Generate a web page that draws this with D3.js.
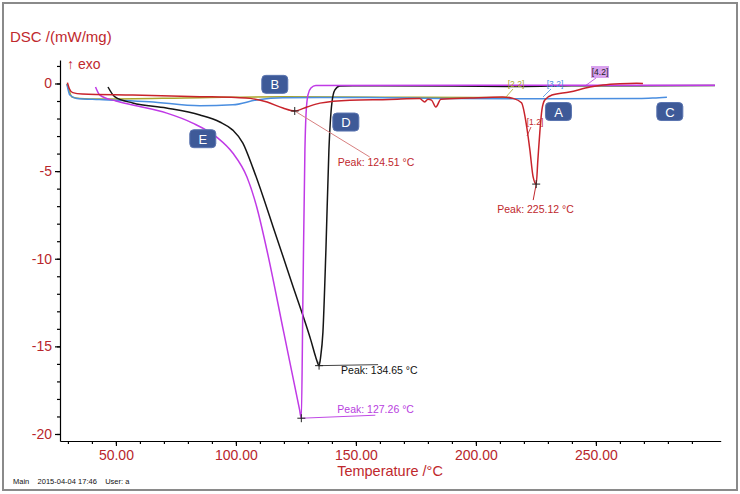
<!DOCTYPE html>
<meta charset="utf-8">
<head>
	<script src="https://d3js.org/d3.v7.min.js"></script>
	<style>
		body {
			margin: 0;
			font-family: "Liberation Sans", Arial, sans-serif;
			background: #fff;
		}
		.axis path,
		.axis line {
			fill: none;
			stroke: #000;
			stroke-width: 1.2px;
		}
		.axis text {
			font-family: "Liberation Sans", Arial, sans-serif;
			font-size: 14px;
			fill: #b8262c;
		}
		.curve {
			fill: none;
			stroke-width: 1.5px;
		}
		.peak-text {
			font-size: 10.5px;
		}
		.tag text {
			font-size: 13px;
			fill: #fff;
			text-anchor: middle;
		}
	</style>
</head>

<body>
	<div id="chart"></div>
</body>

<script type="text/javascript">

	// curve data, [temperature °C, DSC mW/mg]
	var curveA = [[29.8,0.05],[30.6,-0.3],[32,-0.52],[36,-0.6],[57,-0.66],[85,-0.75],[100,-0.8],[106,-0.85],[113,-1.06],[119.6,-1.4],[124.51,-1.57],[129.6,-1.34],[135,-1.12],[147.5,-0.95],[164,-0.91],[176.5,-0.86],[178.7,-1.05],[180,-0.9],[181.5,-0.95],[183.3,-1.34],[185.4,-0.9],[197.5,-0.83],[211,-0.77],[215.5,-0.85],[219,-1.1],[221.2,-2.5],[222.5,-3.8],[223.8,-5.3],[225.12,-5.74],[225.8,-4.4],[226.7,-2.66],[227.5,-1.5],[228.7,-0.94],[231.7,-0.66],[239,-0.49],[247.5,-0.2],[253,-0.09],[260,-0.02],[267,0.01],[269.6,0.0]];
	var curveB = [[29.5,-0.02],[30.5,-0.4],[31.7,-0.77],[35,-0.86],[43,-0.89],[85,-0.81],[120,-0.76],[160,-0.78],[200,-0.8],[214,-0.8]];
	var curveC = [[29.6,-0.03],[30.8,-0.66],[33.7,-0.85],[43,-0.92],[64,-1.04],[85,-1.27],[98.7,-1.22],[108.7,-0.94],[119.6,-0.81],[155,-0.8],[189,-0.86],[231,-0.87],[268,-0.86],[274,-0.83],[279.6,-0.78]];
	var curveD = [[46.7,-0.2],[49.6,-0.77],[57,-1.11],[71,-1.4],[85,-1.8],[93.3,-2.2],[98.7,-2.66],[102.9,-3.4],[107.1,-4.83],[111.25,-6.43],[115.4,-8.14],[119.6,-9.86],[123.75,-11.57],[127.9,-13.23],[131.25,-14.66],[133.3,-15.63],[134.65,-16.1],[135.3,-15.6],[136.25,-14.2],[137.5,-9.5],[138.75,-3.8],[140,-1.1],[141.25,-0.37],[143.3,-0.14],[160,-0.13],[190,-0.15],[220,-0.17],[240,-0.13],[299.6,-0.12]];
	var curveE = [[41.5,-0.2],[43.3,-0.66],[50,-1.0],[57,-1.23],[71.2,-1.69],[82,-2.26],[92,-3.06],[98.7,-3.97],[104.6,-5.34],[108.7,-7.06],[112.9,-9.5],[120,-14.25],[126.5,-18.6],[127.26,-19.1],[127.9,-12.4],[128.75,-3.8],[129.2,-1.8],[130,-0.66],[131.25,-0.26],[133.3,-0.12],[200,-0.1],[299.6,-0.1]];

	var peaks = [
		{ t: 124.51, v: -1.57, label: "Peak: 124.51 °C", color: "#c0282d", line: "#d88080", end: [75, 46], text: [43, 55] },
		{ t: 225.12, v: -5.74, label: "Peak: 225.12 °C", color: "#c0282d", line: "#c0282d", end: [-3, 16], text: [-39, 29] },
		{ t: 134.65, v: -16.1, label: "Peak: 134.65 °C", color: "#111", line: "#444", end: [59, -1], text: [22, 8] },
		{ t: 127.26, v: -19.1, label: "Peak: 127.26 °C", color: "#b83ee0", line: "#c04ae6", end: [74, -3], text: [36, -5] }
	];

	// letter tags, placed in data coordinates
	var tags = [
		{ name: "A", t: 234.4, v: -1.6 },
		{ name: "B", t: 116.2, v: -0.05 },
		{ name: "C", t: 280.8, v: -1.6 },
		{ name: "D", t: 145.8, v: -2.2 },
		{ name: "E", t: 86.2, v: -3.15 }
	];

	var xTicksMajor = [50, 100, 150, 200, 250];
	var yTicksMajor = [0, -5, -10, -15, -20];

	var W = 740, H = 494;

	var svg = d3.select("#chart").append("svg")
		.attr("width", W)
		.attr("height", H);

	svg.append("rect")
		.attr("x", 3).attr("y", 3)
		.attr("width", 734).attr("height", 487)
		.style("fill", "#fff")
		.style("stroke", "#8a8a8a")
		.style("stroke-width", 2);

	var x = d3.scaleLinear().domain([26.7, 302]).range([60, 720.7]);
	var y = d3.scaleLinear().domain([1.34, -20.4]).range([60, 441]);

	// x axis
	svg.append("g")
		.attr("class", "x axis")
		.attr("transform", "translate(0,441)")
		.call(d3.axisBottom(x).tickValues(d3.range(30, 300, 10)).tickSizeInner(3).tickSizeOuter(0).tickFormat(""));

	svg.append("g")
		.attr("class", "x axis")
		.attr("transform", "translate(0,441)")
		.call(d3.axisBottom(x).tickValues(xTicksMajor).tickSizeInner(5).tickSizeOuter(0).tickFormat(d3.format(".2f")))
		.call(function(g) { g.select(".domain").remove(); })
		.selectAll("text")
		.attr("y", 9);

	// y axis
	svg.append("g")
		.attr("class", "y axis")
		.attr("transform", "translate(60,0)")
		.call(d3.axisLeft(y).tickValues(d3.range(1, -21, -1)).tickSizeInner(3).tickSizeOuter(0).tickFormat(""));

	svg.append("g")
		.attr("class", "y axis")
		.attr("transform", "translate(60,0)")
		.call(d3.axisLeft(y).tickValues(yTicksMajor).tickSizeInner(5).tickSizeOuter(0).tickFormat(function(d) { return String(d); }))
		.call(function(g) { g.select(".domain").remove(); })
		.selectAll("text")
		.attr("x", -8);

	svg.append("text")
		.attr("x", 10).attr("y", 42)
		.style("font-size", "15px")
		.style("fill", "#c0282d")
		.text("DSC /(mW/mg)");

	svg.append("text")
		.attr("x", 67).attr("y", 69)
		.style("font-size", "14px")
		.style("fill", "#c0282d")
		.text("↑ exo");

	svg.append("text")
		.attr("x", 390).attr("y", 476)
		.style("font-size", "14.5px")
		.style("fill", "#c0282d")
		.style("text-anchor", "middle")
		.text("Temperature /°C");

	svg.append("text")
		.attr("x", 13).attr("y", 484)
		.style("font-size", "7.5px")
		.style("fill", "#111")
		.attr("xml:space", "preserve")
		.text("Main    2015-04-04 17:46    User: a");

	var line = d3.line()
		.x(function(d) { return x(d[0]); })
		.y(function(d) { return y(d[1]); })
		.curve(d3.curveMonotoneX);

	var curves = [
		{ data: curveB, color: "#aaa62c" },
		{ data: curveC, color: "#4a8ee0" },
		{ data: curveD, color: "#151515" },
		{ data: curveE, color: "#c03ae6" },
		{ data: curveA, color: "#c8232b" }
	];

	svg.selectAll(".curve")
		.data(curves)
		.enter().append("path")
		.attr("class", "curve")
		.attr("d", function(d) { return line(d.data); })
		.style("stroke", function(d) { return d.color; });

	// small bracket labels
	var brackets = [
		{ text: "[1.2]", color: "#c0282d", x: 535, y: 125, l: [531, 127, 527, 136] },
		{ text: "[2.2]", color: "#a8a52a", x: 516, y: 87, l: [513, 89, 506, 97] },
		{ text: "[3.2]", color: "#4a8ee0", x: 555, y: 87, l: [551, 89, 543, 97] },
		{ text: "[4.2]", color: "#222", x: 600, y: 75, l: [596, 78, 585, 86] }
	];
	svg.append("rect")
		.attr("x", 591).attr("y", 66).attr("width", 18).attr("height", 12)
		.style("fill", "#d9a2ef");
	brackets.forEach(function(b) {
		svg.append("line")
			.attr("x1", b.l[0]).attr("y1", b.l[1]).attr("x2", b.l[2]).attr("y2", b.l[3])
			.style("stroke", b.text == "[4.2]" ? "#b040d8" : b.color)
			.style("stroke-width", 0.8);
		svg.append("text")
			.attr("x", b.x).attr("y", b.y)
			.style("font-size", "8.5px")
			.style("text-anchor", "middle")
			.style("fill", b.color)
			.text(b.text);
	});

	// peak markers with leaders
	var pk = svg.selectAll(".peak")
		.data(peaks)
		.enter().append("g")
		.attr("class", "peak")
		.attr("transform", function(d) { return "translate(" + x(d.t) + "," + y(d.v) + ")"; });

	pk.append("line")
		.attr("x1", 0).attr("y1", 0)
		.attr("x2", function(d) { return d.end[0]; })
		.attr("y2", function(d) { return d.end[1]; })
		.style("stroke", function(d) { return d.line; })
		.style("stroke-width", 1);

	pk.append("path")
		.attr("d", "M-4,0H4M0,-4V4")
		.style("stroke", "#222")
		.style("stroke-width", 1);

	pk.append("text")
		.attr("class", "peak-text")
		.attr("x", function(d) { return d.text[0]; })
		.attr("y", function(d) { return d.text[1]; })
		.style("fill", function(d) { return d.color; })
		.text(function(d) { return d.label; });

	// letter tags
	var tg = svg.selectAll(".tag")
		.data(tags)
		.enter().append("g")
		.attr("class", "tag")
		.attr("transform", function(d) { return "translate(" + x(d.t) + "," + y(d.v) + ")"; });

	tg.append("rect")
		.attr("x", -13).attr("y", -9)
		.attr("width", 26).attr("height", 18)
		.attr("rx", 4)
		.style("fill", "#3e5a98")
		.style("stroke", "#5a74b0")
		.style("stroke-width", 1);

	tg.append("text")
		.attr("y", 5)
		.text(function(d) { return d.name; });
</script>
